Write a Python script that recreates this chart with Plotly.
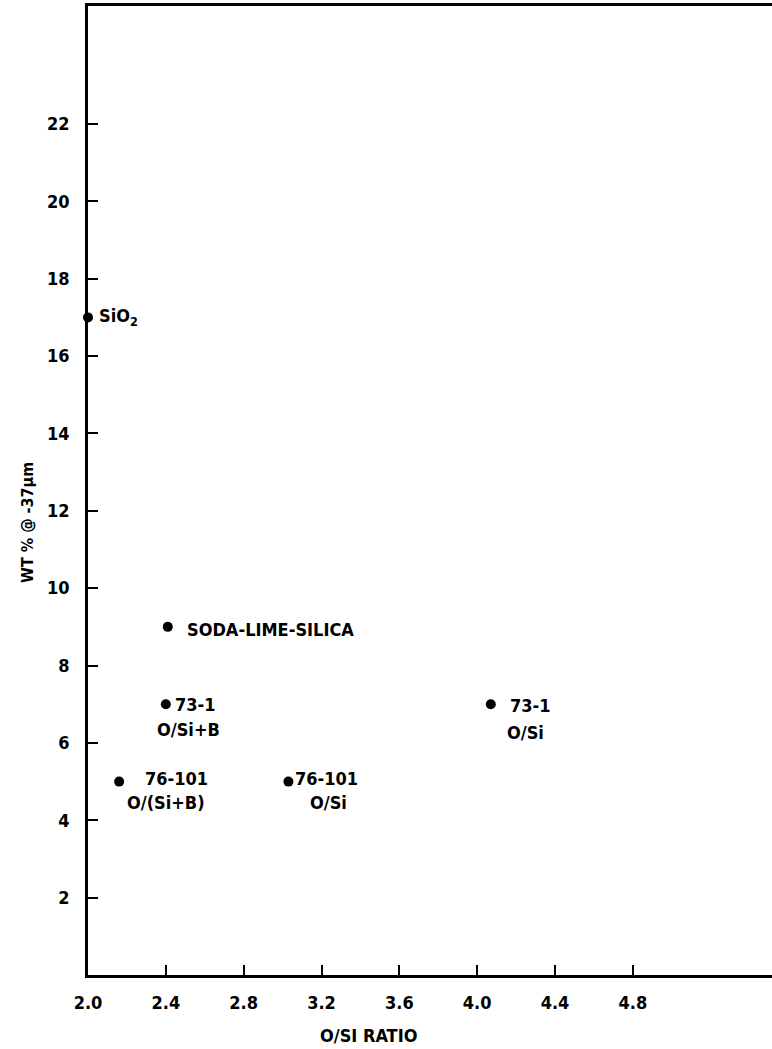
import plotly.graph_objects as go

# Data
o_si_ratio = [2.00, 2.41, 2.40, 2.16, 3.03, 4.07]
wt_pct = [17, 9, 7, 5, 5, 7]
line1 = ["SiO<sub>2</sub>", "SODA-LIME-SILICA", "73-1", "76-101", "76-101", "73-1"]
line2 = ["", "", "O/Si+B", "O/(Si+B)", "O/Si", "O/Si"]

x_ticks = [2.0, 2.4, 2.8, 3.2, 3.6, 4.0, 4.4, 4.8]
x_tick_labels = ["2.0", "2.4", "2.8", "3.2", "3.6", "4.0", "4.4", "4.8"]
y_ticks = [2, 4, 6, 8, 10, 12, 14, 16, 18, 20, 22]
y_tick_labels = [str(v) for v in y_ticks]

FONT = "DejaVu Sans Condensed, Liberation Sans Narrow, Arial Narrow, sans-serif"

# label offsets (pixels) relative to each point: (line1 dx, line1 dy, line2 dx, line2 dy)
offsets = [
    (9, 0, 0, 0),
    (17, -3, 0, 0),
    (7, 0, -11, -25),
    (24, 3, 6, -21),
    (5, 3, 20, -21),
    (17, -1, 14, -28),
]

fig = go.Figure()
fig.add_trace(go.Scatter(
    x=o_si_ratio, y=wt_pct, mode="markers",
    marker=dict(color="black", size=10),
    cliponaxis=False, showlegend=False, hoverinfo="skip",
))

ann = []
for xv, yv, t1, t2, (dx1, dy1, dx2, dy2) in zip(o_si_ratio, wt_pct, line1, line2, offsets):
    ann.append(dict(x=xv, y=yv, xref="x", yref="y", text=t1, showarrow=False,
                    xanchor="left", yanchor="middle", xshift=dx1, yshift=dy1,
                    font=dict(family=FONT, size=18, color="black", weight="bold")))
    if t2:
        ann.append(dict(x=xv, y=yv, xref="x", yref="y", text=t2, showarrow=False,
                        xanchor="left", yanchor="middle", xshift=dx2, yshift=dy2,
                        font=dict(family=FONT, size=18, color="black", weight="bold")))

# axis titles
ann.append(dict(x=(368 - 88) / 684, y=-60 / 969, xref="paper", yref="paper",
                text="O/SI RATIO", showarrow=False, xanchor="center", yanchor="middle",
                font=dict(family=FONT, size=18, color="black", weight="bold")))
ann.append(dict(x=-61 / 684, y=(975 - 523) / 969, xref="paper", yref="paper",
                text="WT % @ -37µm", showarrow=False, textangle=-90,
                xanchor="center", yanchor="middle",
                font=dict(family=FONT, size=16, color="black", weight="bold")))

fig.update_layout(
    width=772, height=1049,
    margin=dict(l=88, r=0, t=6, b=74),
    paper_bgcolor="white", plot_bgcolor="white",
    annotations=ann,
    xaxis=dict(range=[2.0, 5.515], tickvals=x_ticks, ticktext=x_tick_labels,
               showgrid=False, zeroline=False, showline=True, linecolor="black",
               linewidth=2.5, mirror=True, ticks="inside", ticklen=10, tickwidth=1.5,
               tickcolor="black", ticklabelstandoff=10,
               tickfont=dict(family=FONT, size=18, color="black", weight="bold")),
    yaxis=dict(range=[0, 25.05], tickvals=y_ticks, ticktext=y_tick_labels,
               showgrid=False, zeroline=False, showline=True, linecolor="black",
               linewidth=2.5, ticks="inside", ticklen=10, tickwidth=1.5,
               tickcolor="black", ticklabelstandoff=12,
               tickfont=dict(family=FONT, size=18, color="black", weight="bold")),
)

fig.write_html("out.html", config={"displayModeBar": False},
               post_script="document.body.style.margin='0';")
